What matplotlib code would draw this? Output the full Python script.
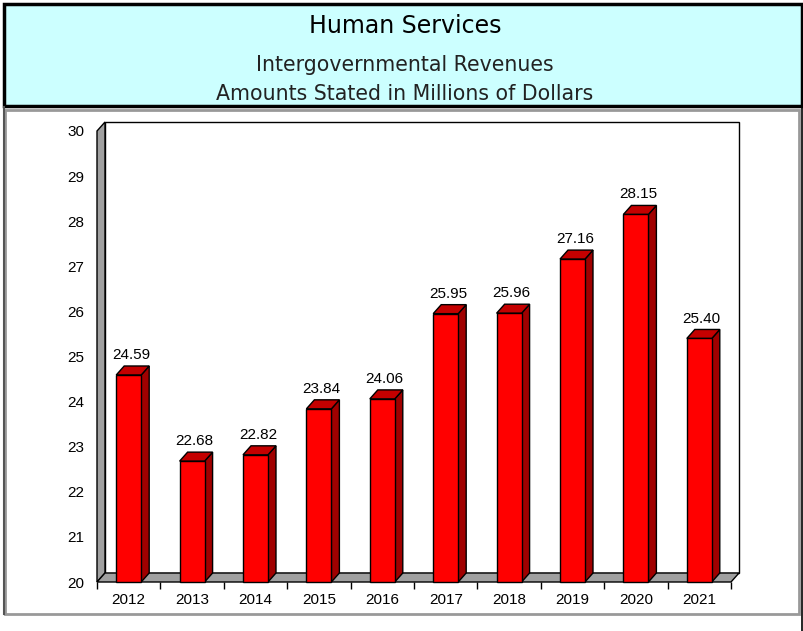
import matplotlib.pyplot as plt
from matplotlib.patches import Polygon, Rectangle

plt.rcParams['font.family'] = ['Liberation Sans', 'DejaVu Sans']

years = ['2012', '2013', '2014', '2015', '2016', '2017', '2018', '2019', '2020', '2021']
revenues = [24.59, 22.68, 22.82, 23.84, 24.06, 25.95, 25.96, 27.16, 28.15, 25.40]
y_ticks = [20, 21, 22, 23, 24, 25, 26, 27, 28, 29, 30]

title = 'Human Services'
subtitle1 = 'Intergovernmental Revenues'
subtitle2 = 'Amounts Stated in Millions of Dollars'

W, H = 804, 631
fig = plt.figure(figsize=(W / 100, H / 100), dpi=100)

# background layer in pixel coordinates for the header box and frame
bg = fig.add_axes([0, 0, 1, 1])
bg.set_xlim(0, W)
bg.set_ylim(H, 0)
bg.axis('off')
bg.add_patch(Rectangle((4, 4), 798, 102, facecolor='#ccffff', edgecolor='black', lw=2.5))
bg.add_patch(Rectangle((5, 110), 794, 504, facecolor='white', edgecolor='#999999', lw=2))
bg.plot([4, 4], [107, 614], color='#555555', lw=1.5)
bg.plot([802, 802], [106, 631], color='black', lw=1.2)
hdr = ['DejaVu Sans']
bg.text(405, 33, title, ha='center', va='baseline', fontsize=17, family=hdr, color='black')
bg.text(405, 71, subtitle1, ha='center', va='baseline', fontsize=14.8, family=hdr, color='#222222')
bg.text(405, 100, subtitle2, ha='center', va='baseline', fontsize=14.8, family=hdr, color='#222222')

# chart axes = front plane of the 3D box
x0, x1, ytop, ybot = 97, 731, 131, 582
ax = fig.add_axes([x0 / W, (H - ybot) / H, (x1 - x0) / W, (ybot - ytop) / H])
ax.set_xlim(-0.5, 9.5)
ax.set_ylim(20, 30)
for s in ax.spines.values():
    s.set_visible(False)
ax.patch.set_visible(False)

n = len(years)
dx = 8 / ((x1 - x0) / n)      # depth offset in category units
dy = 9 / ((ybot - ytop) / 10)  # depth offset in value units
lo, hi = -0.5, n - 0.5
edge = dict(edgecolor='black', lw=1, clip_on=False)

# back wall, left wall and floor
ax.add_patch(Polygon([(lo + dx, 20 + dy), (hi + dx, 20 + dy), (hi + dx, 30 + dy), (lo + dx, 30 + dy)],
                     facecolor='white', zorder=1, **edge))
ax.add_patch(Polygon([(lo, 20), (lo + dx, 20 + dy), (lo + dx, 30 + dy), (lo, 30)],
                     facecolor='#a0a0a0', zorder=2, **edge))
ax.add_patch(Polygon([(lo, 20), (hi, 20), (hi + dx, 20 + dy), (lo + dx, 20 + dy)],
                     facecolor='#a0a0a0', zorder=2, **edge))

bw = 0.394
for i, v in enumerate(revenues):
    l, r = i - bw / 2, i + bw / 2
    ax.add_patch(Polygon([(r, 20), (r + dx, 20 + dy), (r + dx, v + dy), (r, v)],
                         facecolor='#a00000', zorder=3, **edge))
    ax.add_patch(Polygon([(l, v), (r, v), (r + dx, v + dy), (l + dx, v + dy)],
                         facecolor='#c40000', zorder=3, **edge))
    ax.add_patch(Rectangle((l, 20), bw, v - 20, facecolor='#ff0000', zorder=4, **edge))
    ax.annotate(f'{v:.2f}', (i + dx * 0.3, v + dy), xytext=(0, 5), textcoords='offset points',
                ha='center', va='baseline', fontsize=11, color='black', zorder=5)

# category separator ticks under the floor edge
ax.set_xticks([b - 0.5 for b in range(n + 1)], minor=True)
ax.tick_params(axis='x', which='minor', length=5, width=1, color='black', direction='out')
ax.set_xticks(range(n))
ax.set_xticklabels(years)
ax.tick_params(axis='x', which='major', length=0, pad=8, labelsize=11)
ax.set_yticks(y_ticks)
ax.tick_params(axis='y', length=0, pad=9, labelsize=11)

fig.savefig('out.png', dpi=100)
